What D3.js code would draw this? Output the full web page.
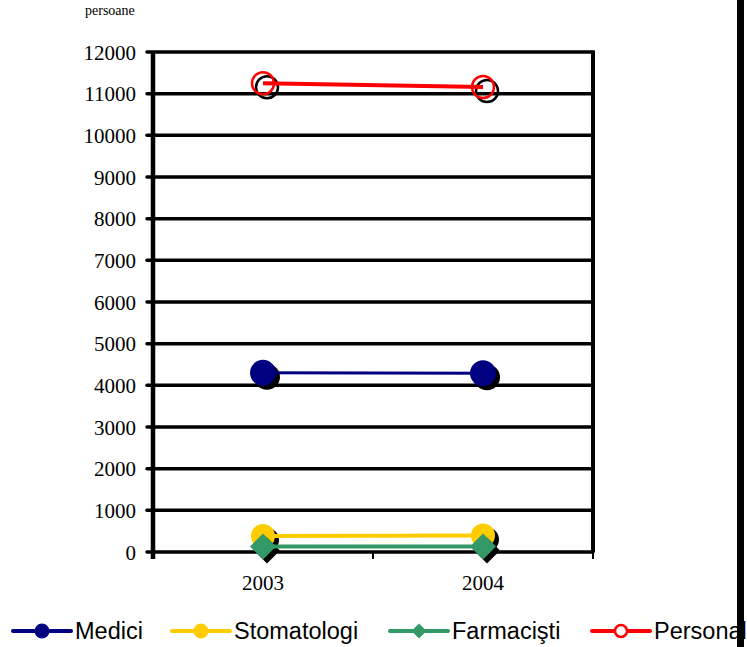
<!DOCTYPE html>
<html>
<head>
<meta charset="utf-8">
<script src="https://cdn.jsdelivr.net/npm/d3@7"></script>
<style>
  html, body { margin: 0; padding: 0; background: #fff; }
  svg { display: block; }
  .serif { font-family: "Liberation Serif", "Times New Roman", "DejaVu Serif", serif; }
  .sans { font-family: "Liberation Sans", Arial, sans-serif; }
</style>
</head>
<body>
<svg id="chart" width="747" height="647"></svg>
<script>
// Years on the category axis
const years = ["2003", "2004"];

// Staff counts per year (persoane)
const medici = [4300, 4290];
const stomatologi = [385, 395];
const farmacisti = [130, 130];
const personal = [11250, 11160];

// Y axis ticks
const yTicks = [0, 1000, 2000, 3000, 4000, 5000, 6000, 7000, 8000, 9000, 10000, 11000, 12000];

const seriesList = [
  { name: "Medici", values: medici, color: "#000080", marker: "circle", width: 3, r: 13 },
  { name: "Stomatologi", values: stomatologi, color: "#FFCC00", marker: "circle", width: 4, r: 12 },
  { name: "Farmacişti", values: farmacisti, color: "#339966", marker: "diamond", width: 4, r: 13 },
  { name: "Personal", values: personal, color: "#FF0000", marker: "ring", width: 4, r: 11 }
];

const svg = d3.select("#chart");
const plot = { left: 153, right: 593, top: 52, bottom: 552 };

const y = d3.scaleLinear().domain([0, 12000]).range([plot.bottom, plot.top]);
const x = d3.scaleBand().domain(years).range([plot.left, plot.right]);
const cx = d => x(d) + x.bandwidth() / 2;

// Y tick labels
const yAxis = svg.append("g")
  .attr("transform", `translate(${plot.left},0)`)
  .call(d3.axisLeft(y).tickValues(yTicks).tickSize(0).tickPadding(17).tickFormat(d3.format("d")));
yAxis.attr("font-family", null).attr("font-size", null);
yAxis.select(".domain").remove();
yAxis.selectAll("text")
  .attr("class", "serif")
  .style("font-size", "21px")
  .attr("dy", "0.34em")
  .attr("fill", "#000");

// Horizontal gridlines with small outer ticks
const grid = svg.append("g");
grid.selectAll("line.grid")
  .data(yTicks)
  .join("line")
  .attr("x1", plot.left - 6)
  .attr("x2", plot.right)
  .attr("y1", d => y(d))
  .attr("y2", d => y(d))
  .attr("stroke", "#000")
  .attr("stroke-width", 3.5)
  .attr("stroke-linecap", "round");

// Plot frame: left and right verticals
grid.append("line")
  .attr("x1", plot.left).attr("x2", plot.left)
  .attr("y1", plot.top).attr("y2", plot.bottom + 7)
  .attr("stroke", "#000").attr("stroke-width", 4.5);
grid.append("line")
  .attr("x1", plot.right).attr("x2", plot.right)
  .attr("y1", plot.top - 1.5).attr("y2", plot.bottom)
  .attr("stroke", "#000").attr("stroke-width", 4);

// Category boundary ticks on the x axis
const xBounds = [plot.left, ...years.slice(1).map(d => x(d)), plot.right];
grid.selectAll("line.xtick")
  .data(xBounds)
  .join("line")
  .attr("x1", d => d).attr("x2", d => d)
  .attr("y1", plot.bottom).attr("y2", plot.bottom + 7)
  .attr("stroke", "#000").attr("stroke-width", 2);

// Category labels
svg.append("g")
  .selectAll("text")
  .data(years)
  .join("text")
  .attr("class", "serif")
  .attr("x", d => cx(d))
  .attr("y", plot.bottom + 38)
  .attr("text-anchor", "middle")
  .style("font-size", "21px")
  .text(d => d);

// Unit label
svg.append("text")
  .attr("class", "serif")
  .attr("x", 85)
  .attr("y", 15)
  .style("font-size", "14px")
  .text("persoane");

function drawMarker(g, type, px, py, r, color, shadow) {
  if (type === "circle") {
    g.append("circle").attr("cx", px).attr("cy", py).attr("r", r)
      .attr("fill", shadow ? "#000" : color);
  } else if (type === "diamond") {
    g.append("path")
      .attr("d", `M${px},${py - r}L${px + r},${py}L${px},${py + r}L${px - r},${py}Z`)
      .attr("fill", shadow ? "#000" : color);
  } else if (type === "ring") {
    g.append("circle").attr("cx", px).attr("cy", py).attr("r", r)
      .attr("fill", "none")
      .attr("stroke", shadow ? "#000" : color)
      .attr("stroke-width", 2.5);
  }
}

const line = d3.line().x((d, i) => cx(years[i])).y(d => y(d));
const series = svg.append("g");
seriesList.forEach(s => {
  const g = series.append("g");
  // marker shadows
  s.values.forEach((v, i) => drawMarker(g, s.marker, cx(years[i]) + 4, y(v) + 4, s.r, s.color, true));
  g.append("path")
    .datum(s.values)
    .attr("d", line)
    .attr("fill", "none")
    .attr("stroke", s.color)
    .attr("stroke-width", s.width);
  s.values.forEach((v, i) => drawMarker(g, s.marker, cx(years[i]), y(v), s.r, s.color, false));
});

// Legend
const legendX = [13, 172, 390, 592];
const legend = svg.append("g");
seriesList.forEach((s, i) => {
  const lx = legendX[i], ly = 631;
  const g = legend.append("g");
  g.append("line")
    .attr("x1", lx).attr("x2", lx + 58)
    .attr("y1", ly).attr("y2", ly)
    .attr("stroke", s.color).attr("stroke-width", 4)
    .attr("stroke-linecap", "round");
  const mr = s.marker === "ring" ? 6 : 7.5;
  if (s.marker === "ring") {
    g.append("circle").attr("cx", lx + 29).attr("cy", ly).attr("r", mr)
      .attr("fill", "#fff").attr("stroke", s.color).attr("stroke-width", 2.5);
  } else {
    drawMarker(g, s.marker, lx + 29, ly, mr, s.color, false);
  }
  g.append("text")
    .attr("class", "sans")
    .attr("x", lx + 62)
    .attr("y", ly + 7.5)
    .style("font-size", "23.5px")
    .text(s.name);
});

// Right edge bar
svg.append("rect")
  .attr("x", 737).attr("y", 0)
  .attr("width", 7).attr("height", 647)
  .attr("fill", "#000");
</script>
</body>
</html>
